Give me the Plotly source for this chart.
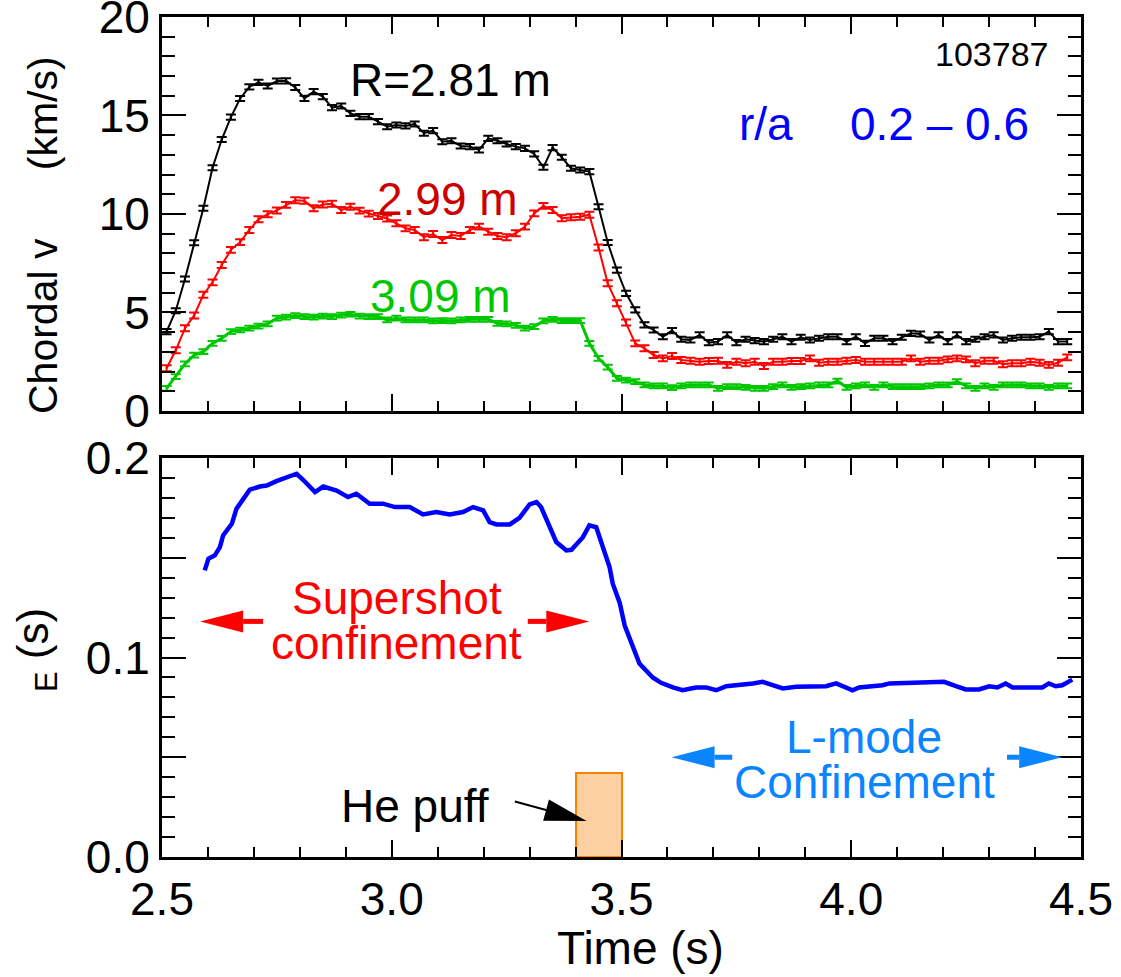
import math
import plotly.graph_objects as go

# ---------------- data ----------------
time = [2.51, 2.53, 2.55, 2.57, 2.59, 2.61, 2.63, 2.65, 2.67, 2.69,
        2.71, 2.73, 2.75, 2.77, 2.79, 2.81, 2.83, 2.85, 2.87, 2.89,
        2.91, 2.93, 2.95, 2.97, 2.99, 3.01, 3.03, 3.05, 3.07, 3.09,
        3.11, 3.13, 3.15, 3.17, 3.19, 3.21, 3.23, 3.25, 3.27, 3.29,
        3.31, 3.33, 3.35, 3.37, 3.39, 3.41, 3.43, 3.45, 3.47, 3.49,
        3.51, 3.53, 3.55, 3.57, 3.59, 3.61, 3.63, 3.65, 3.67, 3.69,
        3.71, 3.73, 3.75, 3.77, 3.79, 3.81, 3.83, 3.85, 3.87, 3.89,
        3.91, 3.93, 3.95, 3.97, 3.99, 4.01, 4.03, 4.05, 4.07, 4.09,
        4.11, 4.13, 4.15, 4.17, 4.19, 4.21, 4.23, 4.25, 4.27, 4.29,
        4.31, 4.33, 4.35, 4.37, 4.39, 4.41, 4.43, 4.45, 4.47]

v_281 = [4.03, 5.09, 6.70, 8.54, 10.29, 12.35, 13.78, 14.92, 15.86, 16.45,
         16.68, 16.50, 16.75, 16.76, 16.42, 15.87, 16.21, 15.96, 15.40, 15.48,
         15.11, 14.94, 14.94, 14.69, 14.43, 14.52, 14.47, 14.57, 14.10, 14.23,
         13.67, 13.72, 13.45, 13.42, 13.25, 13.84, 13.72, 13.55, 13.42, 13.33,
         13.05, 12.37, 13.37, 12.88, 12.32, 12.23, 12.15, 10.37, 8.55, 7.15,
         5.97, 5.13, 4.37, 4.11, 3.77, 4.08, 3.64, 3.60, 3.86, 3.47,
         3.52, 3.86, 3.47, 3.64, 3.57, 3.52, 3.64, 3.77, 3.52, 3.74,
         3.60, 3.69, 3.77, 3.77, 3.52, 3.77, 3.43, 3.69, 3.69, 3.52,
         3.74, 3.94, 3.91, 3.60, 3.86, 3.52, 3.86, 3.52, 3.64, 3.77,
         3.86, 3.60, 3.69, 3.74, 3.74, 3.77, 4.03, 3.52, 3.52]

v_299 = [2.17, 3.08, 4.20, 4.85, 5.90, 6.53, 7.41, 8.18, 8.57, 9.19,
         9.73, 9.99, 10.18, 10.46, 10.70, 10.67, 10.29, 10.48, 10.52, 10.20,
         10.37, 10.17, 10.02, 9.90, 9.77, 9.53, 9.27, 9.19, 8.82, 8.98,
         8.68, 8.93, 8.88, 9.19, 9.36, 9.10, 8.88, 8.82, 9.02, 9.36,
         10.03, 10.41, 10.20, 9.78, 9.83, 9.86, 9.96, 8.30, 6.48, 5.47,
         4.49, 3.43, 3.18, 2.84, 2.67, 2.79, 2.59, 2.55, 2.50, 2.54,
         2.55, 2.34, 2.50, 2.42, 2.50, 2.28, 2.50, 2.50, 2.54, 2.54,
         2.67, 2.45, 2.50, 2.50, 2.55, 2.59, 2.50, 2.50, 2.50, 2.50,
         2.50, 2.67, 2.50, 2.55, 2.55, 2.62, 2.67, 2.62, 2.42, 2.55,
         2.55, 2.37, 2.42, 2.42, 2.50, 2.45, 2.34, 2.45, 2.72]

v_309 = [1.15, 1.74, 2.39, 2.84, 3.01, 3.43, 3.69, 4.03, 4.11, 4.20,
         4.31, 4.42, 4.71, 4.76, 4.84, 4.79, 4.76, 4.82, 4.79, 4.87,
         4.91, 4.82, 4.79, 4.79, 4.62, 4.71, 4.62, 4.62, 4.62, 4.57,
         4.59, 4.57, 4.62, 4.65, 4.65, 4.65, 4.45, 4.42, 4.35, 4.20,
         4.28, 4.57, 4.65, 4.59, 4.59, 4.59, 3.43, 2.67, 2.22, 1.66,
         1.57, 1.49, 1.32, 1.27, 1.27, 1.18, 1.27, 1.32, 1.32, 1.32,
         1.15, 1.23, 1.23, 1.20, 1.15, 1.15, 1.23, 1.32, 1.20, 1.23,
         1.27, 1.32, 1.32, 1.52, 1.20, 1.27, 1.32, 1.20, 1.32, 1.23,
         1.23, 1.23, 1.23, 1.27, 1.32, 1.32, 1.49, 1.27, 1.15, 1.27,
         1.20, 1.32, 1.32, 1.32, 1.27, 1.27, 1.20, 1.27, 1.27]

v_err = [0.13, 0.15, 0.12]

t_tau = [2.593, 2.601, 2.615, 2.626, 2.633, 2.652, 2.662, 2.691, 2.713, 2.728,
         2.749, 2.771, 2.793, 2.807, 2.833, 2.851, 2.880, 2.905, 2.923, 2.952,
         2.981, 3.007, 3.039, 3.068, 3.097, 3.126, 3.155, 3.177, 3.199, 3.213,
         3.228, 3.257, 3.278, 3.300, 3.315, 3.325, 3.343, 3.358, 3.380, 3.391,
         3.416, 3.430, 3.445, 3.459, 3.474, 3.481, 3.496, 3.507, 3.525, 3.539,
         3.568, 3.586, 3.612, 3.633, 3.662, 3.684, 3.706, 3.728, 3.786, 3.807,
         3.829, 3.851, 3.880, 3.945, 3.967, 3.981, 4.003, 4.017, 4.068, 4.083,
         4.184, 4.202, 4.228, 4.249, 4.278, 4.300, 4.318, 4.336, 4.351, 4.416,
         4.430, 4.445, 4.459, 4.481]
tau_e = [0.1437, 0.1495, 0.1512, 0.1553, 0.1612, 0.1670, 0.1745, 0.1841, 0.1857, 0.1862,
         0.1884, 0.1901, 0.1921, 0.1891, 0.1829, 0.1857, 0.1837, 0.1804, 0.1821, 0.1771,
         0.1771, 0.1754, 0.1754, 0.1717, 0.1729, 0.1717, 0.1729, 0.1754, 0.1737, 0.1679,
         0.1667, 0.1667, 0.1700, 0.1767, 0.1779, 0.1754, 0.1662, 0.1579, 0.1537, 0.1540,
         0.1603, 0.1662, 0.1653, 0.1553, 0.1453, 0.1370, 0.1275, 0.1160, 0.1053, 0.0970,
         0.0900, 0.0873, 0.0850, 0.0836, 0.0850, 0.0850, 0.0836, 0.0856, 0.0870, 0.0878,
         0.0861, 0.0845, 0.0853, 0.0856, 0.0870, 0.0856, 0.0836, 0.0850, 0.0861, 0.0870,
         0.0873, 0.0878, 0.0856, 0.0840, 0.0840, 0.0856, 0.0850, 0.0870, 0.0850, 0.0850,
         0.0870, 0.0856, 0.0861, 0.0889]

puff_start, puff_end, puff_height = 3.40, 3.50, 0.042

x_ticks = [2.5, 3.0, 3.5, 4.0, 4.5]
x_ticktext = ["2.5", "3.0", "3.5", "4.0", "4.5"]
y1_ticks = [0, 5, 10, 15, 20]
y1_ticktext = ["0", "5", "10", "15", "20"]
y2_ticks = [0.0, 0.05, 0.1, 0.15, 0.2]
y2_ticktext = ["0.0", "", "0.1", "", "0.2"]

# ---------------- layout constants ----------------
W, H = 1121, 977
ML, MR, MT, MB = 162, 40, 17, 120
TOP_DOM = [0.531, 1.0]
BOT_DOM = [0.0, 0.475]
X_RANGE = [2.5, 4.5]
Y1_RANGE = [0, 20]
Y2_RANGE = [0, 0.2]
FONT = "Liberation Sans, Arial, Helvetica, sans-serif"
FS = 46

plot_w = W - ML - MR
plot_h = H - MT - MB
sx = plot_w / (X_RANGE[1] - X_RANGE[0])
sy2 = plot_h * (BOT_DOM[1] - BOT_DOM[0]) / (Y2_RANGE[1] - Y2_RANGE[0])


def px_to_paper(px, py):
    return (px - ML) / plot_w, (H - MB - py) / plot_h


fig = go.Figure()

# top panel: chordal velocities
series = [(v_281, "#000000", v_err[0], 2), (v_299, "#ff0000", v_err[1], 2),
          (v_309, "#00c800", v_err[2], 3)]
for vals, col, err, lw in series:
    fig.add_trace(go.Scatter(
        x=time, y=vals, mode="lines", xaxis="x", yaxis="y",
        line=dict(color=col, width=lw),
        error_y=dict(type="constant", value=err, width=5, thickness=2, color=col),
        showlegend=False, hoverinfo="skip"))

# bottom panel: He puff bar and tau_E
fig.add_trace(go.Bar(
    x=[(puff_start + puff_end) / 2], y=[puff_height], width=[puff_end - puff_start],
    xaxis="x2", yaxis="y2",
    marker=dict(color="#fdd0a2", line=dict(color="#ff8000", width=2)),
    showlegend=False, hoverinfo="skip"))
fig.add_trace(go.Scatter(
    x=t_tau, y=tau_e, mode="lines", xaxis="x2", yaxis="y2",
    line=dict(color="#0000ff", width=4.5), showlegend=False, hoverinfo="skip"))


def arrow(x0, y0, x1, y1, color, head_len=43, head_w=22, shaft=5):
    """Arrow drawn on the bottom panel from (x0,y0) to tip (x1,y1)."""
    dxp = (x1 - x0) * sx
    dyp = (y1 - y0) * sy2
    L = math.hypot(dxp, dyp)
    ux, uy = dxp / L, dyp / L
    bx, by = -ux * head_len, -uy * head_len
    nx, ny = -uy * head_w / 2, ux * head_w / 2
    base = (x1 + bx / sx, y1 + by / sy2)
    c1 = (x1 + (bx + nx) / sx, y1 + (by + ny) / sy2)
    c2 = (x1 + (bx - nx) / sx, y1 + (by - ny) / sy2)
    return [
        dict(type="line", xref="x2", yref="y2", x0=x0, y0=y0, x1=base[0], y1=base[1],
             line=dict(color=color, width=shaft)),
        dict(type="path", xref="x2", yref="y2",
             path=f"M {x1} {y1} L {c1[0]} {c1[1]} L {c2[0]} {c2[1]} Z",
             fillcolor=color, line=dict(color=color, width=0)),
    ]


shapes = []
shapes += arrow(2.720, 0.1181, 2.583, 0.1181, "#ff0000")
shapes += arrow(3.296, 0.1181, 3.430, 0.1181, "#ff0000")
shapes += arrow(3.741, 0.0500, 3.609, 0.0500, "#0a84ff")
shapes += arrow(4.339, 0.0500, 4.459, 0.0500, "#0a84ff")
shapes += arrow(3.268, 0.0278, 3.424, 0.0180, "#000000", head_len=42, head_w=22, shaft=2)


def ann(x, y, text, color, size=FS, xref="x", yref="y", xanchor="center", angle=0):
    return dict(x=x, y=y, xref=xref, yref=yref, text=text, showarrow=False,
                xanchor=xanchor, yanchor="middle", textangle=angle,
                font=dict(family=FONT, size=size, color=color))


ytitle1 = px_to_paper(43, 235)
ytitle2 = px_to_paper(36, 650)
xtitle = px_to_paper(640, 948)

annotations = [
    ann(3.128, 16.8, "R=2.81 m", "#000000"),
    ann(4.305, 18.1, "103787", "#000000", size=34),
    ann(3.815, 14.55, "r/a", "#0000ff"),
    ann(4.191, 14.55, "0.2 \u2013 0.6", "#0000ff"),
    ann(3.122, 10.75, "2.99 m", "#cc0000"),
    ann(3.107, 5.85, "3.09 m", "#00c800"),
    ann(3.011, 0.1300, "Supershot", "#ff0000", xref="x2", yref="y2"),
    ann(3.011, 0.1075, "confinement", "#ff0000", xref="x2", yref="y2"),
    ann(4.028, 0.0600, "L-mode", "#0a84ff", xref="x2", yref="y2"),
    ann(4.028, 0.0375, "Confinement", "#0a84ff", xref="x2", yref="y2"),
    ann(3.050, 0.0255, "He puff", "#000000", xref="x2", yref="y2"),
    # axis titles
    ann(ytitle1[0], ytitle1[1],
        "Chordal v\u00a0\u00a0\u00a0\u00a0\u00a0\u00a0(km/s)", "#000000",
        size=41, xref="paper", yref="paper", angle=-90),
    ann(ytitle2[0], ytitle2[1], "<sub>E</sub> (s)", "#000000",
        size=44, xref="paper", yref="paper", angle=-90),
    ann(xtitle[0], xtitle[1], "Time (s)", "#000000",
        size=FS, xref="paper", yref="paper"),
]

axis_common = dict(
    range=X_RANGE, showgrid=False, zeroline=False, showline=True, linewidth=3,
    linecolor="black", mirror="allticks", ticks="inside", tickwidth=2,
    tickcolor="black", automargin=False, ticklabeloverflow="allow",
    tickfont=dict(family=FONT, size=FS, color="black"))

fig.update_layout(
    width=W, height=H, margin=dict(l=ML, r=MR, t=MT, b=MB, autoexpand=False),
    paper_bgcolor="white", plot_bgcolor="white",
    font=dict(family=FONT, size=FS, color="black"),
    showlegend=False, bargap=0,
    xaxis=dict(axis_common, domain=[0, 1], anchor="y", tickvals=x_ticks,
               showticklabels=False, ticklen=17,
               minor=dict(dtick=0.1, tick0=2.5, ticklen=10, tickwidth=2,
                          ticks="inside", tickcolor="black")),
    yaxis=dict(axis_common, range=Y1_RANGE, domain=TOP_DOM, anchor="x",
               tickvals=y1_ticks, ticktext=y1_ticktext, ticklen=24,
               minor=dict(dtick=1, tick0=0, ticklen=13, tickwidth=2,
                          ticks="inside", tickcolor="black")),
    xaxis2=dict(axis_common, domain=[0, 1], anchor="y2", tickvals=x_ticks,
                ticktext=x_ticktext, ticklen=17,
                minor=dict(dtick=0.1, tick0=2.5, ticklen=10, tickwidth=2,
                           ticks="inside", tickcolor="black")),
    yaxis2=dict(axis_common, range=Y2_RANGE, domain=BOT_DOM, anchor="x2",
                tickvals=y2_ticks, ticktext=y2_ticktext, ticklen=24,
                minor=dict(dtick=0.01, tick0=0, ticklen=13, tickwidth=2,
                           ticks="inside", tickcolor="black")),
    shapes=shapes,
    annotations=annotations,
)

fig.write_html("out.html")
